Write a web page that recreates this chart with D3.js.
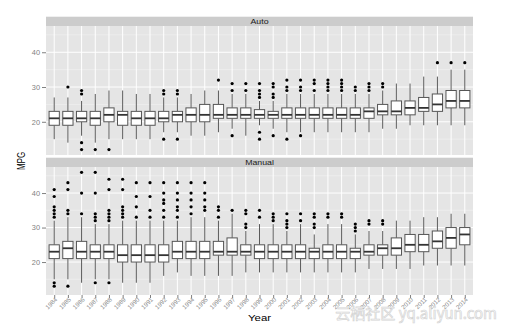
<!DOCTYPE html>
<html><head><meta charset="utf-8">
<script src="https://cdn.jsdelivr.net/npm/d3@7/dist/d3.min.js"></script>
<style>body{margin:0;background:#fff}svg{display:block;font-family:"Liberation Sans",Arial,sans-serif}</style>
</head><body><svg id="c" width="508" height="331"></svg>
<script>
const years = ["1984","1985","1986","1987","1988","1989","1990","1991","1992","1993","1994","1995","1996","1997","1998","1999","2000","2001","2002","2003","2004","2005","2006","2007","2008","2009","2010","2011","2012","2013","2014"];
const yTicks = [20, 30, 40];
const yMinor = [15, 25, 35, 45];

// Auto transmission
const autoLow  = [15,14,16,14,15,15,15,15,17,17,16,16,17,18,16,19,18,17,17,17,17,17,17,17,18,18,19,19,19,19,19];
const autoQ1   = [19,19,20,19,20,19,19,19,20,20,20,20,21,21,21,21,21,21,21,21,21,21,21,21,22,22,22,23,23,24,24];
const autoMed  = [21,21,21,21,22,22,21,21,21,22,22,22,22,22,22,22,22,22,22,22,22,22,22,23,23,23,24,24,25,26,26];
const autoQ3   = [23,23,23,23,24,23,23,23,23,23,24,25,25,24,24,23.5,23,24,24,24,24,24,24,24,25,26,26,27,28,29,29];
const autoHigh = [27,27,26,28,29,29,28,28,27,27,28,29,29,28,28,26,26,28,28,28,28,28,28,28,29,31,31,33,33,35,35];
const autoOut  = [[],[30],[29,28,14,12],[12],[12],[],[],[],[29,28,15],[29,28,15],[],[],[32],[31,29,16],[31,29],
  [31,29,28,27,17,15],[31,30,28,27,16],[32,30,29,15],[32,30,29,16],[32,31,29],[32,31,30,29],[32,31,30,29],[30,29],
  [31,30,29],[31,30],[],[],[],[37],[37],[37]];

// Manual transmission
const manLow  = [15,15,14,15,15,14,14,14,16,17,16,16,16,16,17,17,17,17,17,17,17,17,17,18,18,18,18,19,19,19,19];
const manQ1   = [21,21,21,21,21,20,20,20,20,21,21,21,22,22,22,21,21,21,21,21,21,21,21,22,22,22,23,23,24,24,25];
const manMed  = [23,24,23,23,23,22,22,22,22,23,23,23,23,23,23,23,23,23,23,23,23,23,23,23,24,24,25,25,26,27,28];
const manQ3   = [25,26,26,25,25,25,25,25,25,26,26,26,26,27,25,25,25,25,25,24,25,25,24,25,25,27,28,28,29,30,30];
const manHigh = [32,33,33,31,31,32,32,32,32,32,33,33,32,34,29,31,31,29,31,28,31,31,28,29,29,32,32,33,33,34,34];
const manOut  = [[41,39,36,35,34,33,14,13],[43,41,35,34,13],[46,40,34],[46,40,34,33,32,14],[44,41,35,34,33,32,14],
  [44,41,36,35,34,33],[43,39,36,33],[43,39,35,33],[43,40,38,37,35,33],[43,40,38,36,35,33],[43,40,38,36,34],
  [43,40,38,36,35],[36,35,33],[35],[35,34,31,30],[35,33],[34,33,32],[34,32,31,30],[34,32],[34,33,31,30],
  [34,33],[34,33],[31,30,29],[32,31],[32,31],[],[],[],[],[],[]];

const panels = [
  {name:"Auto", low:autoLow, q1:autoQ1, med:autoMed, q3:autoQ3, high:autoHigh, out:autoOut, top:26, bottom:155},
  {name:"Manual", low:manLow, q1:manQ1, med:manMed, q3:manQ3, high:manHigh, out:manOut, top:167, bottom:295}
];

const svg = d3.select("#c");
const L = 46, R = 473, stripH = 9.3;
const x = d3.scalePoint().domain(years).range([L, R]).padding(0.6);
const bw = x.step() * 0.75;

panels.forEach((p, pi) => {
  const y = d3.scaleLinear().domain([10.45, 47.55]).range([p.bottom, p.top]);
  const g = svg.append("g");
  g.append("rect").attr("x", L).attr("y", p.top).attr("width", R - L).attr("height", p.bottom - p.top).attr("fill", "#e5e5e5");
  g.selectAll(".mn").data(yMinor).join("line")
    .attr("x1", L).attr("x2", R).attr("y1", d => y(d)).attr("y2", d => y(d))
    .attr("stroke", "#f2f2f2").attr("stroke-width", 0.6);
  g.selectAll(".mj").data(yTicks).join("line")
    .attr("x1", L).attr("x2", R).attr("y1", d => y(d)).attr("y2", d => y(d))
    .attr("stroke", "#ffffff").attr("stroke-width", 1);
  g.selectAll(".vx").data(years).join("line")
    .attr("x1", d => x(d)).attr("x2", d => x(d)).attr("y1", p.top).attr("y2", p.bottom)
    .attr("stroke", "#ffffff").attr("stroke-width", 1);
  // strip
  g.append("rect").attr("x", L).attr("y", p.top - stripH).attr("width", R - L).attr("height", stripH).attr("fill", "#cccccc");
  g.append("text").attr("transform", `translate(${(L + R) / 2},${p.top - 2.2}) scale(1.22,1)`)
    .attr("text-anchor", "middle").attr("font-size", 7.2).attr("fill", "#1a1a1a").text(p.name);

  const idx = d3.range(years.length);
  // whiskers
  g.selectAll(".wh").data(idx).join("line")
    .attr("x1", i => x(years[i])).attr("x2", i => x(years[i]))
    .attr("y1", i => y(p.q3[i])).attr("y2", i => y(p.high[i]))
    .attr("stroke", "#5a5a5a").attr("stroke-width", 1);
  g.selectAll(".wl").data(idx).join("line")
    .attr("x1", i => x(years[i])).attr("x2", i => x(years[i]))
    .attr("y1", i => y(p.q1[i])).attr("y2", i => y(p.low[i]))
    .attr("stroke", "#5a5a5a").attr("stroke-width", 1);
  // boxes
  g.selectAll(".bx").data(idx).join("rect")
    .attr("x", i => x(years[i]) - bw / 2).attr("width", bw)
    .attr("y", i => y(p.q3[i])).attr("height", i => y(p.q1[i]) - y(p.q3[i]))
    .attr("fill", "#ffffff").attr("stroke", "#555").attr("stroke-width", 1);
  g.selectAll(".md").data(idx).join("line")
    .attr("x1", i => x(years[i]) - bw / 2).attr("x2", i => x(years[i]) + bw / 2)
    .attr("y1", i => y(p.med[i])).attr("y2", i => y(p.med[i]))
    .attr("stroke", "#333").attr("stroke-width", 1.8);
  // outliers
  const pts = [];
  p.out.forEach((arr, i) => arr.forEach(v => pts.push({yr: years[i], v})));
  g.selectAll(".ol").data(pts).join("circle")
    .attr("cx", d => x(d.yr)).attr("cy", d => y(d.v)).attr("r", 1.6).attr("fill", "#000");

  // y axis
  const ya = g.append("g").attr("transform", `translate(${L},0)`)
    .call(d3.axisLeft(y).tickValues(yTicks).tickSize(4).tickPadding(2));
  ya.select(".domain").remove();
  ya.selectAll("line").attr("stroke", "#7f7f7f");
  ya.selectAll("text").attr("fill", "#7f7f7f").attr("font-size", 7.4).attr("font-family", "Liberation Sans, Arial, sans-serif");

  if (pi === panels.length - 1) {
    const xa = g.append("g").attr("transform", `translate(0,${p.bottom})`)
      .call(d3.axisBottom(x).tickSize(3).tickPadding(1));
    xa.select(".domain").remove();
    xa.selectAll("line").attr("stroke", "#7f7f7f");
    xa.selectAll("text").attr("fill", "#8a8a8a").attr("font-size", 6.2)
      .attr("font-family", "Liberation Sans, Arial, sans-serif")
      .attr("text-anchor", "end").attr("dy", null).attr("y", null)
      .attr("transform", "translate(3,5) rotate(-45)");
  }
});

// axis titles
svg.append("text").attr("transform", `translate(${(L + R) / 2},321) scale(1.2,1)`)
  .attr("text-anchor", "middle").attr("font-size", 9.5).attr("fill", "#000").text("Year");
svg.append("text").attr("transform", `translate(25,161) scale(1.25,1) rotate(-90)`)
  .attr("text-anchor", "middle").attr("font-size", 8).attr("fill", "#000").text("MPG");

// watermark
svg.append("text").attr("x", 497).attr("y", 319).attr("text-anchor", "end")
  .attr("font-family", "Noto Sans CJK SC, sans-serif").attr("font-size", 15)
  .attr("fill", "#ffffff").attr("stroke", "#d4d4d4").attr("stroke-width", 0.7)
  .text("云栖社区 yq.aliyun.com");
</script></body></html>
